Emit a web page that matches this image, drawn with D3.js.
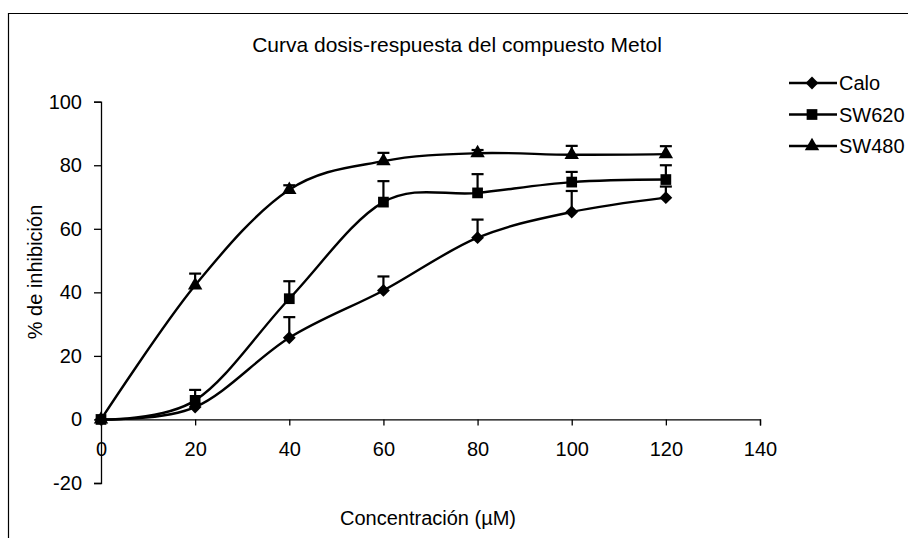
<!DOCTYPE html>
<html>
<head>
<meta charset="utf-8">
<script src="https://cdn.jsdelivr.net/npm/d3@7"></script>
<style>
  html, body { margin: 0; padding: 0; background: #fff; }
  svg { display: block; font-family: "Liberation Sans", Arial, sans-serif; }
</style>
</head>
<body>
<svg id="chart" width="908" height="538"></svg>
<script>
// ---- data ----
const chartTitle = "Curva dosis-respuesta del compuesto Metol";
const xLabel = "Concentración (µM)";
const yLabel = "% de inhibición";
const concentrations = [0, 20, 40, 60, 80, 100, 120];
const seriesNames = ["Calo", "SW620", "SW480"];
const caloValues  = [0, 3.9, 25.7, 40.6, 57.2, 65.3, 69.8];
const caloErrors  = [0, 1.0, 6.5, 4.4, 5.7, 6.6, 3.5];
const sw620Values = [0, 6.0, 38.0, 68.4, 71.3, 74.7, 75.5];
const sw620Errors = [0, 3.3, 5.5, 6.6, 5.9, 3.2, 4.5];
const sw480Values = [0, 42.2, 72.3, 81.3, 83.8, 83.3, 83.5];
const sw480Errors = [0, 3.7, 1.4, 2.6, 1.0, 2.8, 2.5];
const xTicks = [0, 20, 40, 60, 80, 100, 120, 140];
const yTicks = [-20, 0, 20, 40, 60, 80, 100];
const markerShapes = ["diamond", "square", "triangle"];

const series = [
  { name: seriesNames[0], values: caloValues, errors: caloErrors, shape: markerShapes[0] },
  { name: seriesNames[1], values: sw620Values, errors: sw620Errors, shape: markerShapes[1] },
  { name: seriesNames[2], values: sw480Values, errors: sw480Errors, shape: markerShapes[2] }
];

const svg = d3.select("#chart");

// frame (scanned page border)
svg.append("path")
  .attr("d", "M8.5,538 L8.5,13.5 L908,13.5")
  .attr("fill", "none").attr("stroke", "#000").attr("stroke-width", 1.2);

const x = d3.scaleLinear().domain([0, 140]).range([101, 760]);
const y = d3.scaleLinear().domain([-20, 100]).range([483, 101.7]);

// title
svg.append("text")
  .attr("x", 457).attr("y", 45).attr("dy", "0.35em")
  .attr("text-anchor", "middle")
  .style("font-size", "21px")
  .text(chartTitle);

const fmt = d => String(d);

// y axis
const yAxis = svg.append("g")
  .attr("transform", `translate(${x(0)},0)`)
  .call(d3.axisLeft(y).tickValues(yTicks).tickSize(7).tickSizeOuter(7).tickPadding(12).tickFormat(fmt));
yAxis.selectAll("text").style("font-size", "20px").attr("fill", "#000");

// x axis at y=0
const xAxis = svg.append("g")
  .attr("transform", `translate(0,${y(0)})`)
  .call(d3.axisBottom(x).tickValues(xTicks).tickSize(6).tickSizeOuter(6).tickPadding(16).tickFormat(fmt));
xAxis.selectAll("text").style("font-size", "20px").attr("fill", "#000");
svg.selectAll(".domain, .tick line").attr("stroke", "#000").attr("stroke-width", 1.3);

// axis labels
svg.append("text")
  .attr("x", 428).attr("y", 518).attr("dy", "0.35em")
  .attr("text-anchor", "middle").style("font-size", "20px")
  .text(xLabel);
svg.append("text")
  .attr("transform", `translate(35,272) rotate(-90)`)
  .attr("dy", "0.35em")
  .attr("text-anchor", "middle").style("font-size", "20px")
  .text(yLabel);

// symbols
function symbolPath(shape) {
  if (shape === "diamond") return d3.symbol().type(d3.symbolDiamond2).size(105)();
  if (shape === "square") return d3.symbol().type(d3.symbolSquare).size(115)();
  return d3.symbol().type(d3.symbolTriangle).size(90)();
}

const line = d3.line()
  .x((d, i) => x(concentrations[i]))
  .y(d => y(d))
  .curve(d3.curveCatmullRom.alpha(0));

const plot = svg.append("g");

series.forEach(s => {
  const g = plot.append("g");
  // error bars (upper only)
  s.values.forEach((v, i) => {
    if (!s.errors[i]) return;
    const cx = x(concentrations[i]);
    g.append("line").attr("x1", cx).attr("x2", cx)
      .attr("y1", y(v)).attr("y2", y(v + s.errors[i]))
      .attr("stroke", "#000").attr("stroke-width", 2.2);
    g.append("line").attr("x1", cx - 6).attr("x2", cx + 6)
      .attr("y1", y(v + s.errors[i])).attr("y2", y(v + s.errors[i]))
      .attr("stroke", "#000").attr("stroke-width", 2.2);
  });
  g.append("path").datum(s.values)
    .attr("d", line).attr("fill", "none")
    .attr("stroke", "#000").attr("stroke-width", 2.4);
  g.selectAll(".pt").data(s.values).join("path")
    .attr("transform", (d, i) => `translate(${x(concentrations[i])},${y(d)})`)
    .attr("d", symbolPath(s.shape))
    .attr("fill", "#000");
});

// legend
const legendY = [83, 114.5, 146];
series.forEach((s, i) => {
  const g = svg.append("g").attr("transform", `translate(789,${legendY[i]})`);
  g.append("line").attr("x1", 0).attr("x2", 48).attr("y1", 0).attr("y2", 0)
    .attr("stroke", "#000").attr("stroke-width", 2.4);
  g.append("path").attr("transform", "translate(23,0)").attr("d", symbolPath(s.shape)).attr("fill", "#000");
  g.append("text").attr("x", 50).attr("dy", "0.35em").style("font-size", "20px").text(s.name);
});
</script>
</body>
</html>
